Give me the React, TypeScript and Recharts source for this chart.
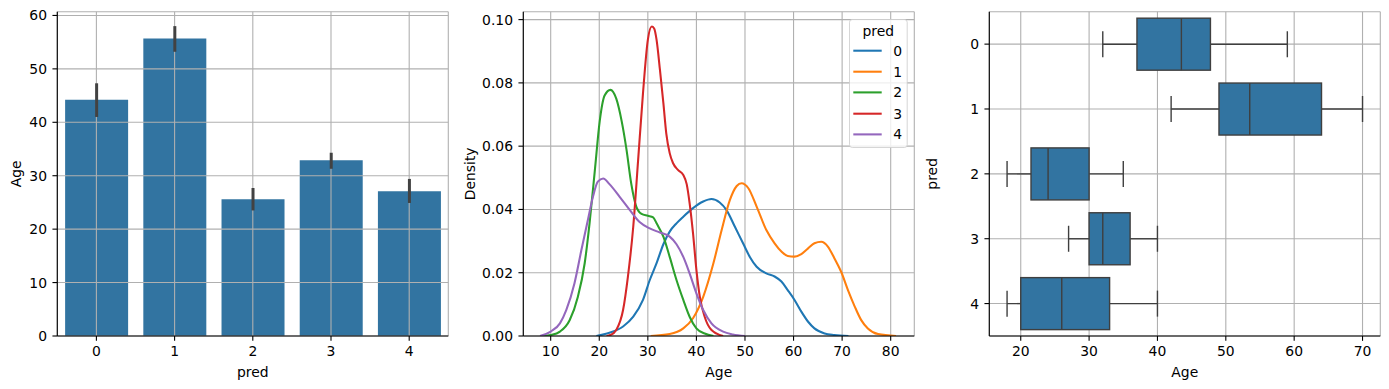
import React from 'react';
import {
  BarChart, Bar, XAxis, YAxis, CartesianGrid, ErrorBar, LineChart, Line, Legend,
} from 'recharts';

// ---------- data ----------
const categories = ['0', '1', '2', '3', '4'];

// panel 1: mean age per predicted cluster, with 95% CI
const meanAge = [44.2, 55.7, 25.6, 32.9, 27.1];
const ciLow = [41.0, 53.2, 23.5, 31.3, 24.9];
const ciHigh = [47.3, 58.0, 27.7, 34.3, 29.4];

// panel 2: KDE of Age per cluster
const kdeAge0 = [19.4, 22.1, 24.9, 27, 29, 30.4, 31.8, 33.2, 34.5, 35.9, 37.3, 39.3, 41.4, 43.1, 44.8, 46.2, 47.9, 49.6, 51, 52.4, 54.4, 56.1, 57.5, 58.8, 60.2, 61.6, 63, 64.3, 66.4, 68.4, 71.3];
const kdeDen0 = [0, 0.001, 0.003, 0.0061, 0.0114, 0.0177, 0.023, 0.029, 0.033, 0.0356, 0.0377, 0.0404, 0.0425, 0.0433, 0.0422, 0.0398, 0.0346, 0.0293, 0.025, 0.0219, 0.0198, 0.0188, 0.0172, 0.0145, 0.0114, 0.0077, 0.0045, 0.0024, 0.0008, 0.0003, 0];

const kdeAge1 = [30.6, 34.5, 37.3, 39.3, 41.4, 43.5, 45.2, 46.9, 48.3, 49.3, 50.7, 52.4, 54.4, 56.1, 57.5, 58.8, 60.2, 61.6, 63, 64.3, 65.7, 67.1, 68.4, 69.8, 71.2, 72.6, 73.9, 75.3, 77.4, 81.1];
const kdeDen1 = [0, 0.0006, 0.0024, 0.0056, 0.0124, 0.023, 0.0335, 0.043, 0.0474, 0.0483, 0.0467, 0.0409, 0.0335, 0.0293, 0.0267, 0.0253, 0.0251, 0.0259, 0.0277, 0.0293, 0.0298, 0.0282, 0.0246, 0.0203, 0.0145, 0.0093, 0.0051, 0.0024, 0.0006, 0];

const kdeAge2 = [8.4, 10, 11.9, 13.9, 15.6, 17, 18, 19.1, 20.1, 21.1, 22.3, 23.5, 24.6, 25.6, 26.6, 27.6, 28.7, 30, 31.1, 31.8, 33.2, 34.5, 35.9, 37.3, 38.6, 40, 41.7, 43.5];
const kdeDen2 = [0, 0.0003, 0.0014, 0.005, 0.0124, 0.023, 0.0356, 0.0525, 0.068, 0.076, 0.0778, 0.075, 0.068, 0.059, 0.048, 0.041, 0.0386, 0.038, 0.0375, 0.0356, 0.0314, 0.025, 0.0177, 0.0114, 0.0061, 0.0024, 0.0008, 0];

const kdeAge3 = [21.5, 22.3, 23.5, 24.9, 25.9, 27, 28, 29, 30, 30.8, 31.3, 31.8, 32.5, 33.2, 33.8, 34.5, 35.2, 36.2, 37.3, 38, 38.6, 39.3, 40, 40.7, 41.7, 43.1, 45.5];
const kdeDen3 = [0, 0.0003, 0.0019, 0.0082, 0.0188, 0.0346, 0.0556, 0.0767, 0.0936, 0.0978, 0.0972, 0.0936, 0.084, 0.0736, 0.064, 0.0578, 0.0546, 0.0525, 0.0509, 0.048, 0.042, 0.0325, 0.0209, 0.0124, 0.0061, 0.0019, 0];

const kdeAge4 = [7.8, 10, 11.9, 13.2, 14.9, 16.3, 17.7, 18.7, 19.7, 20.8, 22.1, 24.2, 26.3, 28.3, 30.4, 32.5, 34.5, 35.9, 37.3, 38.6, 40, 41.4, 43.1, 45.5, 47.5, 50];
const kdeDen4 = [0, 0.0014, 0.004, 0.0082, 0.0167, 0.027, 0.037, 0.044, 0.0488, 0.0498, 0.048, 0.044, 0.0398, 0.036, 0.034, 0.0327, 0.0314, 0.029, 0.025, 0.0198, 0.0135, 0.0082, 0.004, 0.0014, 0.0005, 0];

const kdeColors = ['#1f77b4', '#ff7f0e', '#2ca02c', '#d62728', '#9467bd'];

// panel 3: box plot stats
const whiskerLow = [32, 42, 18, 27, 18];
const q1 = [37, 49, 21.5, 30, 20];
const median = [43.5, 53.5, 24, 32, 26];
const q3 = [47.75, 64, 30, 36, 33];
const whiskerHigh = [59, 70, 35, 40, 40];

// tick labels
const barYTicks = [0, 10, 20, 30, 40, 50, 60];
const kdeXTicks = [10, 20, 30, 40, 50, 60, 70, 80];
const kdeYTicks = [0, 0.02, 0.04, 0.06, 0.08, 0.1];
const boxXTicks = [20, 30, 40, 50, 60, 70];

// ---------- derived tables ----------
const barData = categories.map((c, i) => ({
  pred: c,
  age: meanAge[i],
  err: [meanAge[i] - ciLow[i], ciHigh[i] - meanAge[i]],
}));

const kdeAges = [kdeAge0, kdeAge1, kdeAge2, kdeAge3, kdeAge4];
const kdeDens = [kdeDen0, kdeDen1, kdeDen2, kdeDen3, kdeDen4];
const kdeSeries = categories.map((c, i) => ({
  name: c,
  color: kdeColors[i],
  data: kdeAges[i].map((a, j) => ({ a, d: kdeDens[i][j] })),
}));

const boxData = categories.map((c, i) => ({
  pred: c,
  range: [whiskerLow[i], whiskerHigh[i]],
  lo: whiskerLow[i], q1: q1[i], med: median[i], q3: q3[i], hi: whiskerHigh[i],
}));

// ---------- styles ----------
const FONT = '"DejaVu Sans", sans-serif';
const FS = 13.9;
const GRID = '#b0b0b0';
const GW = 1.1;
const TS = 4.86;
const TM = 5.4;
const tickStyle = { fontSize: FS, fontFamily: FONT, fill: '#000' };
const axisLine = { stroke: '#000', strokeWidth: 1.1 };
const tickLine = { stroke: '#000', strokeWidth: 1.1 };
const labelStyle = { fontSize: FS, fontFamily: FONT, fill: '#000' };
const BLUE = '#3274a1';
const EDGE = '#3f3f3f';

const BoxShape = (props: any) => {
  const { x, y, width, height, payload } = props;
  if (payload == null || width == null) return null;
  const k = width / (payload.hi - payload.lo);
  const px = (v: number) => x + (v - payload.lo) * k;
  const cy = y + height / 2;
  const xq1 = px(payload.q1);
  const xq3 = px(payload.q3);
  const xm = px(payload.med);
  const xl = px(payload.lo);
  const xh = px(payload.hi);
  const cap = height / 4;
  const sw = 1.4;
  return (
    <g>
      <line x1={xl} y1={cy} x2={xq1} y2={cy} stroke={EDGE} strokeWidth={sw} />
      <line x1={xq3} y1={cy} x2={xh} y2={cy} stroke={EDGE} strokeWidth={sw} />
      <line x1={xl} y1={cy - cap} x2={xl} y2={cy + cap} stroke={EDGE} strokeWidth={sw} />
      <line x1={xh} y1={cy - cap} x2={xh} y2={cy + cap} stroke={EDGE} strokeWidth={sw} />
      <rect x={xq1} y={y} width={xq3 - xq1} height={height} fill={BLUE} stroke={EDGE} strokeWidth={sw} />
      <line x1={xm} y1={y} x2={xm} y2={y + height} stroke={EDGE} strokeWidth={sw} />
    </g>
  );
};

const KdeLegend = () => {
  const w = 58.7;
  const h = 129;
  const rows = [31.7, 52.7, 73.4, 94.7, 115.4];
  return (
    <svg width={w} height={h} style={{ display: 'block', overflow: 'visible' }}>
      <rect x={0.5} y={0.5} width={w - 1} height={h - 1} rx={2.8} ry={2.8}
        fill="rgba(255,255,255,0.8)" stroke="rgba(204,204,204,0.8)" strokeWidth={1} />
      <text x={w / 2} y={12.4} textAnchor="middle" dominantBaseline="central" style={labelStyle}>pred</text>
      {kdeSeries.map((s, i) => (
        <g key={s.name}>
          <line x1={4.3} y1={rows[i]} x2={32.7} y2={rows[i]} stroke={s.color} strokeWidth={2.08} />
          <text x={44.3} y={rows[i]} dominantBaseline="central" style={labelStyle}>{s.name}</text>
        </g>
      ))}
    </svg>
  );
};

const gridProps: any = { stroke: GRID, strokeWidth: GW };
const errProps: any = { zIndex: 450 };

export default function App() {
  return (
    <div style={{ position: 'absolute', left: 0, top: 0, width: 1389, height: 389, background: '#fff', fontFamily: FONT }}>
      {/* Panel 1: bar chart */}
      <div style={{ position: 'absolute', left: 0, top: 0 }}>
        <BarChart width={460} height={389} data={barData} barCategoryGap="10%"
          margin={{ top: 11.7, right: 11.7, bottom: 0, left: 0 }}>
          <XAxis dataKey="pred" type="category" height={53} tick={tickStyle} tickSize={TS} tickMargin={TM}
            axisLine={axisLine} tickLine={tickLine}
            label={{ value: 'pred', position: 'center', dy: 9.2, style: labelStyle }} />
          <YAxis type="number" domain={[0, 60.7]} ticks={barYTicks} width={57.3} tick={tickStyle}
            tickSize={TS} tickMargin={TM} axisLine={axisLine} tickLine={tickLine} allowDataOverflow
            label={{ value: 'Age', angle: -90, position: 'center', dx: -12.6, style: labelStyle }} />
          <XAxis xAxisId="top" orientation="top" type="number" domain={[0, 1]} height={0}
            tick={false} tickLine={false} axisLine={axisLine} />
          <YAxis yAxisId="right" orientation="right" type="number" domain={[0, 1]} width={0}
            tick={false} tickLine={false} axisLine={axisLine} />
          <Bar dataKey="age" fill={BLUE} isAnimationActive={false}>
            <ErrorBar dataKey="err" width={0} stroke="#424242" strokeWidth={3} direction="y" {...errProps} />
          </Bar>
          <CartesianGrid {...gridProps} zIndex={350} />
        </BarChart>
      </div>

      {/* Panel 2: KDE lines */}
      <div style={{ position: 'absolute', left: 460, top: 0 }}>
        <LineChart width={460} height={389} margin={{ top: 11.7, right: 5.7, bottom: 0, left: 0 }}>
          <CartesianGrid {...gridProps} />
          <XAxis dataKey="a" type="number" domain={[4.36, 84.86]} ticks={kdeXTicks} allowDataOverflow
            height={53} tick={tickStyle} tickSize={TS} tickMargin={TM} axisLine={axisLine} tickLine={tickLine}
            label={{ value: 'Age', position: 'center', dy: 9.2, style: labelStyle }} />
          <YAxis type="number" domain={[0, 0.1025]} ticks={kdeYTicks} allowDataOverflow width={63.3}
            tick={tickStyle} tickFormatter={(v: number) => v.toFixed(2)} tickSize={TS} tickMargin={TM}
            axisLine={axisLine} tickLine={tickLine}
            label={{ value: 'Density', angle: -90, position: 'center', dx: -21.6, style: labelStyle }} />
          <XAxis xAxisId="top" orientation="top" type="number" domain={[0, 1]} height={0}
            tick={false} tickLine={false} axisLine={axisLine} />
          <YAxis yAxisId="right" orientation="right" type="number" domain={[0, 1]} width={0}
            tick={false} tickLine={false} axisLine={axisLine} />
          {kdeSeries.map((s) => (
            <Line key={s.name} data={s.data} dataKey="d" name={s.name} type="monotone" stroke={s.color}
              strokeWidth={2.08} dot={false} activeDot={false} isAnimationActive={false} />
          ))}
          <Legend layout="vertical" align="center" verticalAlign="middle" content={<KdeLegend />}
            wrapperStyle={{ position: 'absolute', left: 389, top: 19.3, width: 58.7, height: 129 }} />
        </LineChart>
      </div>

      {/* Panel 3: box plot */}
      <div style={{ position: 'absolute', left: 920, top: 0 }}>
        <BarChart width={469} height={389} data={boxData} layout="vertical" barCategoryGap="10%"
          margin={{ top: 11.7, right: 8.7, bottom: 0, left: 0 }}>
          <CartesianGrid {...gridProps} />
          <XAxis type="number" domain={[15.4, 72.6]} ticks={boxXTicks} allowDataOverflow height={53}
            tick={tickStyle} tickSize={TS} tickMargin={TM} axisLine={axisLine} tickLine={tickLine}
            label={{ value: 'Age', position: 'center', dy: 9.2, style: labelStyle }} />
          <YAxis type="category" dataKey="pred" width={69.3} tick={tickStyle} tickSize={TS} tickMargin={TM}
            axisLine={axisLine} tickLine={tickLine}
            label={{ value: 'pred', angle: -90, position: 'center', dx: -22.3, style: labelStyle }} />
          <XAxis xAxisId="top" orientation="top" type="number" domain={[0, 1]} height={0}
            tick={false} tickLine={false} axisLine={axisLine} />
          <YAxis yAxisId="right" orientation="right" type="number" domain={[0, 1]} width={0}
            tick={false} tickLine={false} axisLine={axisLine} />
          <Bar dataKey="range" shape={BoxShape} isAnimationActive={false} />
        </BarChart>
      </div>
    </div>
  );
}
